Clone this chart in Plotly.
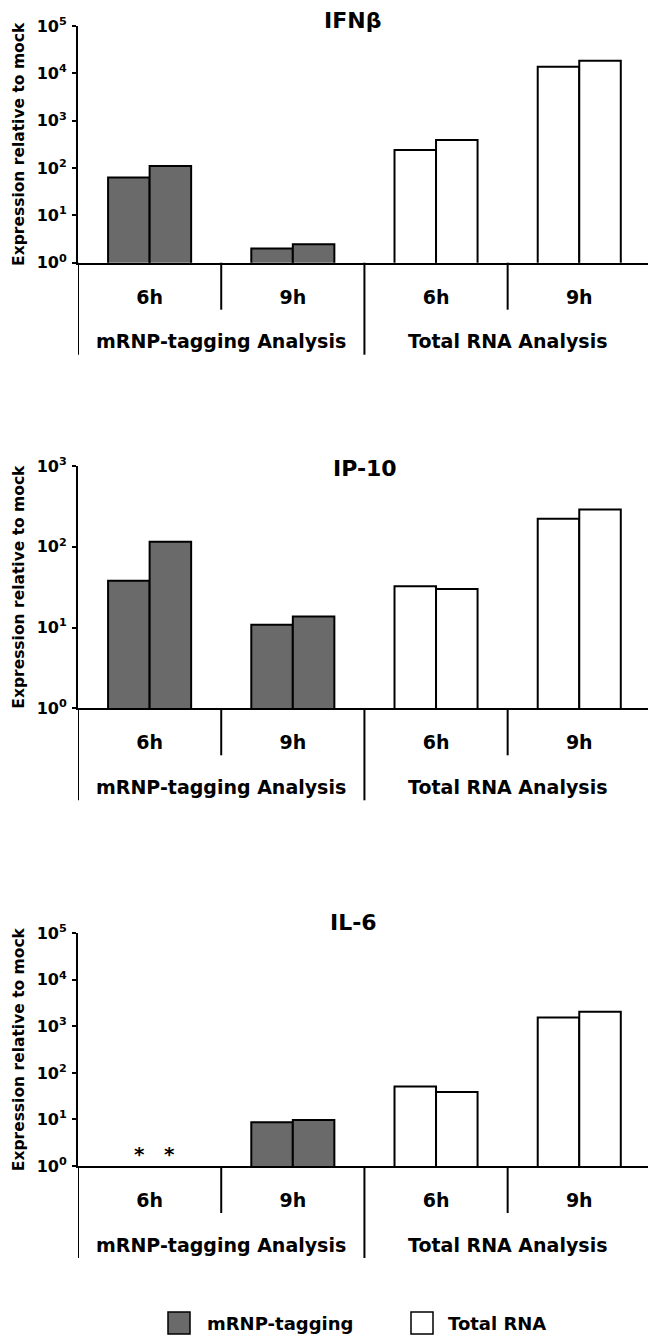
import plotly.graph_objects as go

# ---------------- data ----------------
categories = ["mRNP 6h", "mRNP 9h", "Total 6h", "Total 9h"]
time_labels = ["6h", "9h", "6h", "9h"]
analysis_labels = ["mRNP-tagging Analysis", "Total RNA Analysis"]
series_of_category = ["mRNP-tagging", "mRNP-tagging", "Total RNA", "Total RNA"]
legend_names = ["mRNP-tagging", "Total RNA"]
genes = ["IFNβ", "IP-10", "IL-6"]

ifnb_rep1 = [63, 2.0, 240, 13800]
ifnb_rep2 = [110, 2.45, 390, 18500]
ip10_rep1 = [38, 10.8, 32.4, 222]
ip10_rep2 = [115, 13.7, 30, 290]
il6_rep1 = [None, 8.7, 51, 1560]
il6_rep2 = [None, 9.7, 38.8, 2050]
il6_not_detected = ["mRNP 6h"]          # shown as asterisks

ifnb_exponents = [0, 1, 2, 3, 4, 5]
ip10_exponents = [0, 1, 2, 3]
il6_exponents = [0, 1, 2, 3, 4, 5]

# ---------------- style ----------------
W, H = 648, 1337
FONT = "DejaVu Sans"
GREY = "#6a6a6a"
fill = {"mRNP-tagging": GREY, "Total RNA": "white"}
AX_L = 78  # left margin px

panels = [
    dict(gene=genes[0], r1=ifnb_rep1, r2=ifnb_rep2, exps=ifnb_exponents, top=26, base=262.7, title_y=20.5, title_x=352),
    dict(gene=genes[1], r1=ip10_rep1, r2=ip10_rep2, exps=ip10_exponents, top=466, base=708.3, title_y=468, title_x=365),
    dict(gene=genes[2], r1=il6_rep1, r2=il6_rep2, exps=il6_exponents, top=933.3, base=1166, title_y=922, title_x=353),
]


def py(px):
    return 1 - px / H


def pxx(px):
    return (px - AX_L) / (W - AX_L)


fig = go.Figure()
shapes = []
annotations = []
colors = [fill[s] for s in series_of_category]

for i, p in enumerate(panels, start=1):
    xa = "x" if i == 1 else f"x{i}"
    ya = "y" if i == 1 else f"y{i}"
    for reps, og in ((p["r1"], "a"), (p["r2"], "b")):
        fig.add_trace(go.Bar(
            x=categories, y=reps, xaxis=xa, yaxis=ya, offsetgroup=og,
            marker=dict(color=colors, line=dict(color="black", width=2)),
            showlegend=False, hoverinfo="x+y", name=p["gene"],
        ))
    lay_x = "xaxis" if i == 1 else f"xaxis{i}"
    lay_y = "yaxis" if i == 1 else f"yaxis{i}"
    fig.layout[lay_x] = dict(
        domain=[0, 1], anchor=ya, type="category", range=[-0.5, 3.48],
        categoryorder="array", categoryarray=categories,
        tickvals=categories, ticktext=time_labels, ticks="",
        ticklabelstandoff=16,
        tickfont=dict(family=FONT, size=19, color="black", weight="bold"),
        showline=True, linecolor="black", linewidth=2, showgrid=False,
        zeroline=False, automargin=False, fixedrange=True,
    )
    fig.layout[lay_y] = dict(
        domain=[py(p["base"]), py(p["top"])], anchor=xa, type="log",
        range=[0, p["exps"][-1]],
        tickvals=[10 ** e for e in p["exps"]],
        ticktext=[f"10<sup>{e}</sup>" for e in p["exps"]],
        ticks="outside", ticklen=4, tickwidth=2, tickcolor="black",
        ticklabelstandoff=2,
        tickfont=dict(family=FONT, size=16, color="black", weight="bold"),
        showline=True, linecolor="black", linewidth=2, showgrid=False,
        zeroline=False, automargin=False, fixedrange=True,
        title=dict(text="Expression relative to mock", standoff=8,
                   font=dict(family=FONT, size=15.5, color="black", weight="bold")),
    )
    b = p["base"]
    line = dict(color="black", width=2)
    # axis extension, short and long dividers
    for xpos, depth in ((-0.5, 92), (0.5, 47), (1.5, 92), (2.5, 47)):
        shapes.append(dict(type="line", xref=xa, yref="paper", x0=xpos, x1=xpos,
                           y0=py(b), y1=py(b + depth), line=line))
    # group labels
    for xpos, lab in zip((0.5, 2.5), analysis_labels):
        annotations.append(dict(text=lab, xref=xa, yref="paper", x=xpos, y=py(b + 78.5),
                                showarrow=False, xanchor="center", yanchor="middle",
                                font=dict(family=FONT, size=19, color="black", weight="bold")))
    # title
    annotations.append(dict(text=p["gene"], xref="paper", yref="paper", x=pxx(p["title_x"]),
                            y=py(p["title_y"]), showarrow=False, xanchor="center", yanchor="middle",
                            font=dict(family=FONT, size=22, color="black", weight="bold")))
    if p["gene"] == "IL-6":
        for cat in il6_not_detected:
            for shift in (-10, 20):
                annotations.append(dict(text="*", xref=xa, yref="paper", x=cat, xshift=shift,
                                        y=py(b - 12), showarrow=False, xanchor="center",
                                        yanchor="middle",
                                        font=dict(family=FONT, size=20, color="black", weight="bold")))

# legend (drawn)
legend_items = [(legend_names[0], 168, 205), (legend_names[1], 411, 446)]
for name, sx, tx in legend_items:
    shapes.append(dict(type="rect", xref="paper", yref="paper", x0=pxx(sx), x1=pxx(sx + 22),
                       y0=py(1334), y1=py(1312), fillcolor=fill[name],
                       line=dict(color="black", width=1.5)))
    annotations.append(dict(text=name, xref="paper", yref="paper", x=pxx(tx), y=py(1323),
                            showarrow=False, xanchor="left", yanchor="middle",
                            font=dict(family=FONT, size=18, color="black", weight="bold")))

fig.update_layout(
    width=W, height=H, template="none",
    margin=dict(l=AX_L, r=0, t=0, b=0, autoexpand=False),
    paper_bgcolor="white", plot_bgcolor="white",
    barmode="group", bargap=0.42, bargroupgap=0,
    showlegend=False, shapes=shapes, annotations=annotations,
)

fig.write_html("out.html",
               config={"displayModeBar": False, "staticPlot": False},
               post_script="document.body.style.margin='0';document.body.style.overflow='hidden';")
